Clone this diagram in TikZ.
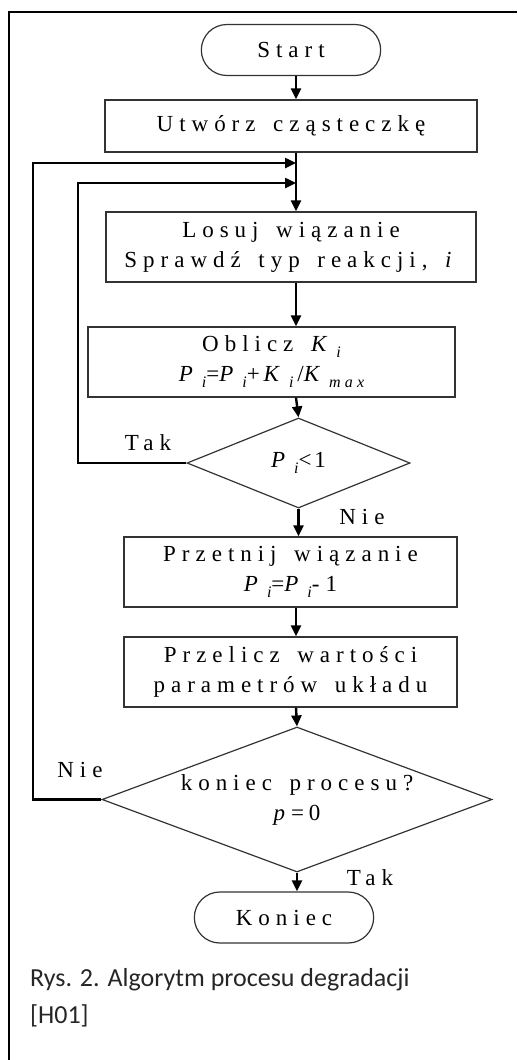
\documentclass[tikz,border=0pt]{standalone}
\usepackage{fontspec}
\setmainfont{Liberation Serif}[LetterSpace=26, WordSpace=1.5]
\newfontfamily\capfont{Carlito}
\usetikzlibrary{shapes.geometric,shapes.misc,arrows.meta}
\definecolor{box-gray}{HTML}{333333}

\newcommand\idx[1]{\kern3pt\raisebox{-0.55ex}{\fontsize{16}{16}\selectfont\itshape #1}}
\newcommand\Pind{\textit{P}\idx{i}}
\newcommand\Kind{\textit{K}\idx{i}}

\tikzset{
  blok/.style={draw=box-gray, line width=1.2pt, align=center, minimum height=70pt,
    font=\fontsize{23}{30}\selectfont},
  term/.style={rounded rectangle, draw=box-gray, line width=1.2pt, minimum width=186pt,
    minimum height=51pt, font=\fontsize{23}{24}\selectfont},
  decyzja/.style={diamond, draw=box-gray, line width=1.2pt, inner sep=0pt, align=center,
    font=\fontsize{23}{30}\selectfont},
  flow/.style={->, line width=2.4pt},
  etykieta/.style={font=\fontsize{23}{24}\selectfont}
}

\begin{document}
\begin{tikzpicture}[x=1pt, y=-1pt, >={Triangle[length=11pt,width=10pt]}]
  \useasboundingbox (0,0) rectangle (517,1060);
  % ramka
  \draw[line width=2pt] (9,1060) -- (9,12) -- (517,12);

  \node[term] (start) at (291,50) {Start};
  \node[blok, minimum width=372pt, minimum height=52pt] (utworz) at (291,126) {Utwórz cząsteczkę};
  \node[blok, minimum width=370pt] (losuj) at (291,247) {Losuj wiązanie\\Sprawdź typ reakcji, \textit{i}};
  \node[blok, minimum width=367pt] (oblicz) at (271.5,362)
    {Oblicz \Kind\\\Pind=\Pind+\kern4pt\Kind\kern4pt/\textit{K}\idx{max}};
  \node[decyzja, shape aspect=2.48, minimum width=223pt, minimum height=90pt] (warunek) at (298.5,463) {\Pind<\kern3pt1};
  \node[blok, minimum width=333pt] (przetnij) at (290.5,572) {Przetnij wiązanie\\\Pind=\Pind-1};
  \node[blok, minimum width=333pt] (przelicz) at (290.5,672) {Przelicz wartości\\parametrów układu};
  \node[decyzja, shape aspect=2.69, minimum width=390pt, minimum height=145pt] (koniecp) at (297,799.5)
    {koniec procesu?\\\textit{p}\kern0pt=\kern5pt0};
  \node[term] (koniec) at (284,917.5) {Koniec};

  \coordinate (os) at (296,0);
  \coordinate (j1) at (296,163);
  \coordinate (j2) at (296,183);
  \coordinate (p1) at (33,163);
  \coordinate (p2) at (78,183);

  \draw[flow] (start.south -| os) -- (utworz.north -| os);
  \draw[flow] (utworz.south -| os) -- (losuj.north -| os);
  \draw[flow] (losuj.south -| os) -- (oblicz.north -| os);
  \draw[flow] (oblicz.south -| os) -- (warunek.north);
  \draw[flow] (warunek.south) -- (przetnij.north -| warunek.south);
  \draw[flow] (przetnij.south -| os) -- (przelicz.north -| os);
  \draw[flow] (przelicz.south -| os) -- (koniecp.north);
  \draw[flow] (koniecp.south) -- (koniec.north -| koniecp.south);
  \draw[flow] (warunek.west) -| (p2) -- (j2);
  \draw[flow] (koniecp.west) -| (p1) -- (j1);

  \node[etykieta] (tak1) at (148,443) {Tak};
  \node[etykieta] (nie1) at (362,517) {Nie};
  \node[etykieta] (nie2) at (80,770) {Nie};
  \node[etykieta] (tak2) at (370,878) {Tak};

  \node[anchor=north west, align=left, inner sep=0pt, text=black!85,
    font=\capfont\fontsize{26}{37}\selectfont] (podpis) at (30,968)
    {Rys. 2. Algorytm procesu degradacji\\{[H01]}};
\end{tikzpicture}
\end{document}
